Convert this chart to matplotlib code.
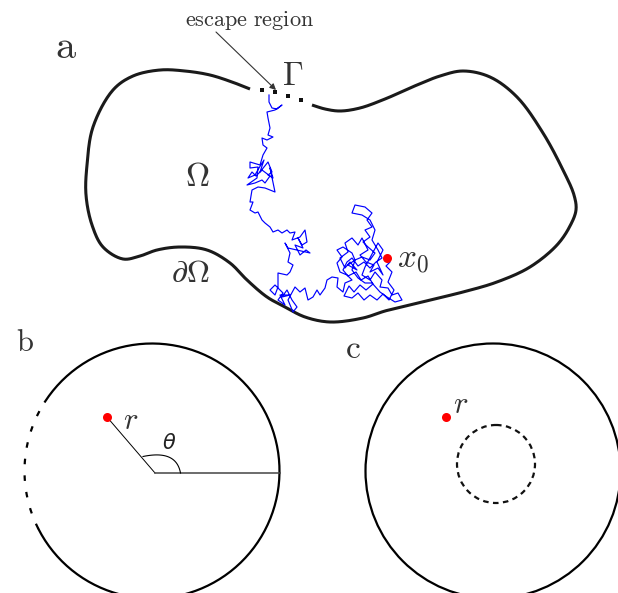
import numpy as np
import matplotlib
matplotlib.use('Agg')
import matplotlib.pyplot as plt
from matplotlib.patches import Circle

plt.rcParams['mathtext.fontset'] = 'cm'

# ---- data (pixel coordinates of the diagram) ----
blob_x = [312, 325, 340, 360, 385, 417, 440, 463, 490, 517,
          543, 563, 574, 576, 570, 557, 530, 497, 463, 430,
          405, 385, 363, 330, 305, 285, 267, 247, 230, 207,
          180, 157, 140, 123, 103, 92, 86, 87, 93, 113,
          133, 160, 185, 210, 232, 250]
blob_y = [105, 109, 111, 108, 99, 85, 76, 71, 77, 97,
          133, 170, 195, 210, 226, 245, 267, 282, 292, 300,
          306, 311, 318, 322, 317, 307, 297, 280, 263, 250,
          247, 250, 256, 259, 247, 225, 195, 165, 127, 90,
          76, 70, 71, 75, 82, 89]

gamma_x = [262, 275, 288, 300.5]
gamma_y = [89.5, 92, 95.5, 99.5]

walk_x = [269, 269, 272, 277, 282, 275, 267, 268, 270, 268,
          273, 267, 262, 263, 267, 263, 260, 250, 250, 258,
          257, 247, 255, 262, 265, 270, 262, 256, 252, 248,
          255, 259, 264, 260, 268, 272, 268, 273, 270, 275,
          265, 258, 252, 250, 253, 250, 255, 258, 262, 265,
          270, 273, 278, 282, 287, 290, 295, 292, 300, 305,
          307, 302, 298, 303, 295, 300, 306, 310, 297, 288,
          285, 290, 288, 293, 290, 287, 278, 278, 275, 270,
          275, 283, 278, 285, 280, 290, 282, 287, 292, 297,
          293, 288, 295, 300, 305, 308, 313, 317, 320, 325,
          327, 332, 338, 337, 343, 345, 352, 347, 340, 337,
          342, 337, 343, 352, 355, 348, 357, 350, 345, 340,
          348, 345, 352, 358, 362, 368, 360, 366, 374, 370,
          378, 383, 377, 383, 378, 365, 362, 370, 375, 382,
          380, 388, 392, 398, 402, 395, 387, 380, 372, 365,
          358, 352, 355, 362, 370, 375, 368, 363, 370, 365,
          372, 367, 372, 365, 355, 352, 362, 370, 375, 372,
          378, 382, 376, 370, 364, 358, 352, 347, 343, 348,
          356, 361, 368, 373, 366, 360, 354, 349, 344, 352,
          358, 364, 370, 377, 383, 389, 394, 388, 392, 386,
          390, 387]
walk_y = [95, 102, 108, 109, 105, 110, 112, 118, 128, 135,
          137, 140, 138, 145, 148, 155, 165, 162, 168, 167,
          178, 185, 183, 180, 183, 176, 170, 176, 172, 178,
          175, 168, 160, 172, 162, 172, 175, 178, 168, 192,
          188, 187, 190, 202, 202, 210, 213, 212, 220, 223,
          227, 232, 230, 233, 230, 233, 232, 240, 237, 230,
          242, 245, 238, 248, 245, 255, 250, 253, 250, 248,
          243, 253, 262, 265, 272, 275, 273, 287, 295, 290,
          285, 293, 300, 305, 295, 295, 297, 290, 300, 307,
          312, 300, 287, 292, 288, 300, 297, 290, 295, 288,
          280, 277, 278, 287, 292, 283, 280, 275, 272, 263,
          257, 250, 247, 253, 260, 265, 270, 262, 268, 258,
          252, 243, 238, 245, 238, 250, 255, 262, 265, 272,
          268, 275, 262, 250, 243, 267, 275, 280, 272, 280,
          287, 288, 295, 293, 300, 302, 297, 292, 283, 283,
          278, 270, 260, 257, 260, 253, 247, 242, 237, 230,
          227, 220, 213, 207, 205, 213, 215, 220, 230, 240,
          250, 258, 262, 268, 262, 266, 258, 262, 270, 276,
          272, 280, 276, 284, 290, 285, 292, 286, 296, 298,
          293, 300, 295, 300, 294, 300, 290, 282, 272, 266,
          262, 258]

x0_pt = (387, 258)

# panel b / c geometry
b_center = (152, 471)
c_center = (493, 471)
outer_r = 127.5
b_dotted_from, b_dotted_to = 147, 207   # degrees
b_point = (106.7, 416.7)
b_vertex = (155, 473)
c_inner_center = (496, 464)
c_inner_r = 39
c_point = (446.3, 416.7)


def centripetal_cr(px, py, n=16, alpha=0.5):
    P = np.column_stack([px, py]).astype(float)
    P = np.vstack([2 * P[0] - P[1], P, 2 * P[-1] - P[-2]])
    out = []
    for i in range(1, len(P) - 2):
        p0, p1, p2, p3 = P[i - 1], P[i], P[i + 1], P[i + 2]
        t0 = 0.0
        t1 = t0 + np.linalg.norm(p1 - p0) ** alpha
        t2 = t1 + np.linalg.norm(p2 - p1) ** alpha
        t3 = t2 + np.linalg.norm(p3 - p2) ** alpha
        t = np.linspace(t1, t2, n, endpoint=False)[:, None]
        A1 = (t1 - t) / (t1 - t0) * p0 + (t - t0) / (t1 - t0) * p1
        A2 = (t2 - t) / (t2 - t1) * p1 + (t - t1) / (t2 - t1) * p2
        A3 = (t3 - t) / (t3 - t2) * p2 + (t - t2) / (t3 - t2) * p3
        B1 = (t2 - t) / (t2 - t0) * A1 + (t - t0) / (t2 - t0) * A2
        B2 = (t3 - t) / (t3 - t1) * A2 + (t - t1) / (t3 - t1) * A3
        C = (t2 - t) / (t2 - t1) * B1 + (t - t1) / (t2 - t1) * B2
        out.append(C)
    out.append(P[-2][None, :])
    out = np.vstack(out)
    return out[:, 0], out[:, 1]


def arc(center, r, t1, t2, n=200):
    t = np.radians(np.linspace(t1, t2, n))
    return center[0] + r * np.cos(t), center[1] - r * np.sin(t)


fig = plt.figure(figsize=(6.18, 5.93), dpi=100)
ax = fig.add_axes([0, 0, 1, 1])
ax.set_xlim(0, 618)
ax.set_ylim(593, 0)
ax.axis('off')

# ---- panel a ----
bx, by = centripetal_cr(blob_x, blob_y)
ax.plot(bx, by, color='#1a1a1a', lw=2.2, solid_capstyle='butt')
ax.plot(gamma_x, gamma_y, 's', color='#111111', ms=3, mew=0)
ax.plot(walk_x, walk_y, color='#0000ff', lw=0.85)
ax.plot(*x0_pt, 'o', color='#ff0000', ms=6.5, mew=0)

ax.annotate('', xy=(276, 90), xytext=(216, 32),
            arrowprops=dict(arrowstyle='-|>', lw=0.8, color='#333333',
                            mutation_scale=9, shrinkA=0, shrinkB=0))
ax.text(250, 26, r'$\mathrm{escape\ region}$', fontsize=16, ha='center', va='baseline', color='#333333')
ax.text(55, 58, r'$\mathrm{a}$', fontsize=29, ha='left', va='baseline', color='#333333')
ax.text(282, 85, r'$\Gamma$', fontsize=24, ha='left', va='baseline', color='#333333')
ax.text(185, 186, r'$\Omega$', fontsize=24, ha='left', va='baseline', color='#333333')
ax.text(171, 282, r'$\partial\Omega$', fontsize=23, ha='left', va='baseline', color='#333333')
ax.text(397, 267, r'$x_0$', fontsize=24, ha='left', va='baseline', color='#333333')

# ---- panel b ----
sx, sy = arc(b_center, outer_r, b_dotted_to - 360, b_dotted_from)
ax.plot(sx, sy, color='black', lw=1.6)
dx, dy = arc(b_center, outer_r, b_dotted_from, b_dotted_to)
ax.plot(dx, dy, color='black', lw=1.6, linestyle=(2.5, (2.5, 5)))
ax.plot([b_point[0], b_vertex[0]], [b_point[1], b_vertex[1]], color='black', lw=0.7)
ax.plot([b_vertex[0], b_center[0] + outer_r], [b_vertex[1], b_vertex[1]], color='#444444', lw=1.1)
# angle mark (cubic bezier)
P0, P1, P2, P3 = (np.array(p, float) for p in [(143, 456.5), (160, 453), (177, 454), (180.5, 473)])
tt = np.linspace(0, 1, 40)[:, None]
bez = (1 - tt) ** 3 * P0 + 3 * (1 - tt) ** 2 * tt * P1 + 3 * (1 - tt) * tt ** 2 * P2 + tt ** 3 * P3
ax.plot(bez[:, 0], bez[:, 1], color='black', lw=0.8)
ax.plot(*b_point, 'o', color='#ff0000', ms=6.5, mew=0)
ax.text(123, 429, r'$r$', fontsize=22, ha='left', va='baseline', color='#333333')
ax.text(162, 449, r'$\theta$', fontsize=15, ha='left', va='baseline', math_fontfamily='dejavusans', color='#222222')
ax.text(16, 351, r'$\mathrm{b}$', fontsize=22, ha='left', va='baseline', color='#333333')

# ---- panel c ----
ax.add_patch(Circle(c_center, outer_r, fill=False, ec='black', lw=1.6))
ax.add_patch(Circle(c_inner_center, c_inner_r, fill=False, ec='#111111', lw=1.6,
                    linestyle=(0, (2.5, 2))))
ax.plot(*c_point, 'o', color='#ff0000', ms=6.5, mew=0)
ax.text(453, 413, r'$r$', fontsize=22, ha='left', va='baseline', color='#333333')
ax.text(345, 358, r'$\mathrm{c}$', fontsize=24, ha='left', va='baseline', color='#333333')

fig.savefig('out.png', dpi=100)
